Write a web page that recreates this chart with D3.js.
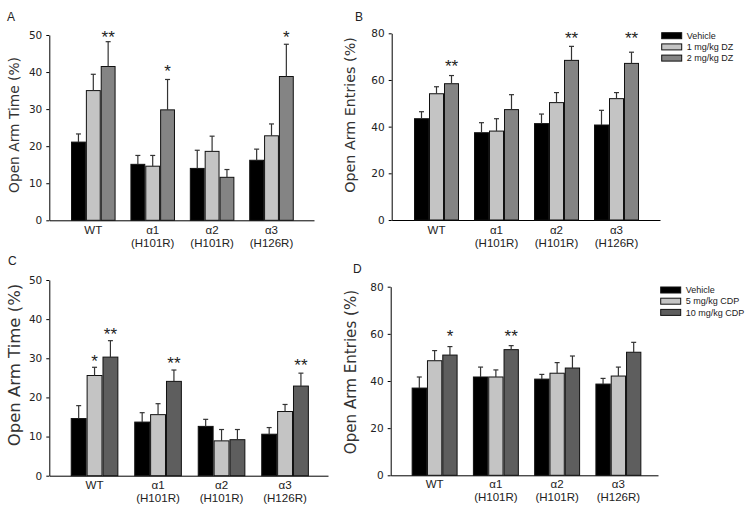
<!DOCTYPE html>
<html><head><meta charset="utf-8">
<script src="https://cdn.jsdelivr.net/npm/d3@7"></script>
<style>body{margin:0;background:#fff}svg{display:block}</style>
</head><body>
<svg id="chart" width="751" height="513"></svg>
<script>
// ---------- data ----------
const groupLine1 = ["WT", "α1", "α2", "α3"];
const groupLine2 = ["", "(H101R)", "(H101R)", "(H126R)"];
const yTicksTime = [0, 10, 20, 30, 40, 50];
const yTicksEntries = [0, 20, 40, 60, 80];

const dzLegend = ["Vehicle", "1 mg/kg DZ", "2 mg/kg DZ"];
const cdpLegend = ["Vehicle", "5 mg/kg CDP", "10 mg/kg CDP"];

// Panel A: open arm time, DZ
const A_vehicle = [21.1, 15.1, 14.0, 16.2];
const A_vehicleErr = [23.3, 17.5, 18.9, 19.2];
const A_dz1 = [35.0, 14.6, 18.6, 22.8];
const A_dz1Err = [39.4, 17.5, 22.7, 26.0];
const A_dz2 = [41.5, 29.8, 11.6, 38.8];
const A_dz2Err = [48.2, 38.0, 13.7, 47.5];
const A_stars = [[0, 2, "**", 50.5], [1, 2, "*", 41.3], [3, 2, "*", 50.5]];

// Panel B: open arm entries, DZ
const B_vehicle = [43.4, 37.4, 41.3, 40.7];
const B_vehicleErr = [46.4, 41.7, 45.4, 47.0];
const B_dz1 = [54.1, 38.1, 50.3, 52.0];
const B_dz1Err = [57.1, 43.4, 54.6, 54.6];
const B_dz2 = [58.4, 47.3, 68.4, 67.1];
const B_dz2Err = [61.9, 53.7, 74.4, 71.9];
const B_stars = [[0, 2, "**", 67.3], [2, 2, "**", 79.3], [3, 2, "**", 79.3]];

// Panel C: open arm time, CDP
const C_vehicle = [14.6, 13.7, 12.6, 10.6];
const C_vehicleErr = [17.9, 16.1, 14.4, 12.3];
const C_cdp5 = [25.6, 15.6, 8.9, 16.4];
const C_cdp5Err = [27.7, 18.4, 11.8, 18.2];
const C_cdp10 = [30.3, 24.1, 9.2, 22.9];
const C_cdp10Err = [34.5, 27.0, 11.8, 26.2];
const C_stars = [[0, 1, "*", 30.3], [0, 2, "**", 37.1], [1, 2, "**", 29.6], [3, 2, "**", 29.1]];

// Panel D: open arm entries, CDP
const D_vehicle = [37.0, 41.7, 40.8, 38.7];
const D_vehicleErr = [41.7, 45.9, 42.8, 41.1];
const D_cdp5 = [48.6, 41.7, 43.3, 42.1];
const D_cdp5Err = [52.9, 44.7, 47.8, 45.9];
const D_cdp10 = [51.0, 53.3, 45.5, 52.2];
const D_cdp10Err = [54.6, 55.0, 50.6, 56.4];
const D_stars = [[0, 2, "*", 60.4], [1, 2, "**", 60.7]];

// ---------- layout ----------
const colorsDZ = ["#000000", "#c4c4c4", "#848484"];
const colorsCDP = ["#000000", "#c4c4c4", "#5e5e5e"];

const panels = [
  { letter: "A", lx: 7, ly: 20.7, ax: 49.3, yTop: 35, yBot: 220.3, yMax: 50, ticks: yTicksTime, xEnd: 314,
    b0: 63.6, b1: 301.2, title: "Open Arm Time (%)", tx: 14, ty: 125, tfs: 13.8, lfs: 11.5, l1: 9.7, l2: 22.7,
    values: [A_vehicle, A_dz1, A_dz2], errs: [A_vehicleErr, A_dz1Err, A_dz2Err], stars: A_stars, colors: colorsDZ },
  { letter: "B", lx: 355, ly: 20.7, ax: 391.7, yTop: 33.3, yBot: 220, yMax: 80, ticks: yTicksEntries, xEnd: 660,
    b0: 406.5, b1: 646.5, title: "Open Arm Entries (%)", tx: 350, ty: 115, tfs: 14.3, lfs: 11.5, l1: 9.7, l2: 22.7,
    values: [B_vehicle, B_dz1, B_dz2], errs: [B_vehicleErr, B_dz1Err, B_dz2Err], stars: B_stars, colors: colorsDZ,
    legend: dzLegend, legX: 661.7, legY: 35.7, legStep: 11.2 },
  { letter: "C", lx: 8, ly: 265, ax: 49.3, yTop: 280, yBot: 475.7, yMax: 50, ticks: yTicksTime, xEnd: 328,
    b0: 62.8, b1: 316.8, title: "Open Arm Time (%)", tx: 14, ty: 365, tfs: 16.5, lfs: 11.6, l1: 9.2, l2: 22.3,
    values: [C_vehicle, C_cdp5, C_cdp10], errs: [C_vehicleErr, C_cdp5Err, C_cdp10Err], stars: C_stars, colors: colorsCDP },
  { letter: "D", lx: 353, ly: 272.7, ax: 390.7, yTop: 286.7, yBot: 475.3, yMax: 80, ticks: yTicksEntries, xEnd: 658,
    b0: 404, b1: 649, title: "Open Arm Entries (%)", tx: 351, ty: 372, tfs: 15.1, lfs: 11.5, l1: 8.8, l2: 22,
    values: [D_vehicle, D_cdp5, D_cdp10], errs: [D_vehicleErr, D_cdp5Err, D_cdp10Err], stars: D_stars, colors: colorsCDP,
    legend: cdpLegend, legX: 660.7, legY: 290, legStep: 11.2 }
];

const svg = d3.select("#chart");
const SANS = "'Liberation Sans', Arial, sans-serif";
const WIDE = "'DejaVu Sans', Verdana, sans-serif";

panels.forEach(p => {
  const g = svg.append("g");
  const y = d3.scaleLinear().domain([0, p.yMax]).range([p.yBot, p.yTop]);
  const x = d3.scaleBand().domain(d3.range(groupLine1.length)).range([p.b0, p.b1])
    .paddingInner(0.25).paddingOuter(0.125);
  const xs = d3.scaleBand().domain([0, 1, 2]).range([0, x.bandwidth()]);

  // y axis
  const yAxis = d3.axisLeft(y).tickValues(p.ticks).tickSize(3).tickPadding(4).tickSizeOuter(0);
  const ya = g.append("g").attr("transform", `translate(${p.ax},0)`).call(yAxis);
  ya.select(".domain").attr("stroke", "#000");
  ya.selectAll(".tick line").attr("stroke", "#000");
  ya.selectAll(".tick text").attr("font-family", WIDE).attr("font-size", 10.5).attr("fill", "#222");

  // x axis line (no ticks)
  const xr = d3.scaleLinear().domain([0, 1]).range([p.ax, p.xEnd]);
  const xAxis = d3.axisBottom(xr).tickValues([]).tickSizeOuter(0);
  g.append("g").attr("transform", `translate(0,${p.yBot})`).call(xAxis)
    .select(".domain").attr("stroke", "#000");

  // bars
  p.values.forEach((vals, s) => {
    g.append("g").selectAll("rect").data(vals).join("rect")
      .attr("x", (d, i) => x(i) + xs(s) + 0.5)
      .attr("y", d => y(d))
      .attr("width", xs.bandwidth() - 1)
      .attr("height", d => y(0) - y(d))
      .attr("fill", p.colors[s])
      .attr("stroke", "#111").attr("stroke-width", 1);
  });

  // error bars
  p.errs.forEach((errs, s) => {
    const eg = g.append("g").attr("stroke", "#333").attr("stroke-width", 1.2);
    errs.forEach((e, i) => {
      const cx = x(i) + xs(s) + xs.bandwidth() / 2;
      eg.append("line").attr("x1", cx).attr("x2", cx).attr("y1", y(p.values[s][i])).attr("y2", y(e));
      eg.append("line").attr("x1", cx - 2.5).attr("x2", cx + 2.5).attr("y1", y(e)).attr("y2", y(e));
    });
  });

  // stars
  g.append("g").selectAll("text").data(p.stars).join("text")
    .attr("x", d => x(d[0]) + xs(d[1]) + xs.bandwidth() / 2)
    .attr("y", d => y(d[3]) + 9.5)
    .attr("text-anchor", "middle")
    .attr("font-family", SANS).attr("font-size", 17).attr("fill", "#222")
    .text(d => d[2]);

  // x labels
  const xl = g.append("g").attr("font-family", SANS).attr("font-size", p.lfs).attr("fill", "#222")
    .attr("text-anchor", "middle");
  groupLine1.forEach((t, i) => {
    const cx = x(i) + x.bandwidth() / 2;
    xl.append("text").attr("x", cx).attr("y", p.yBot + p.l1).attr("dy", "0.35em").text(t);
    if (groupLine2[i]) xl.append("text").attr("x", cx).attr("y", p.yBot + p.l2).attr("dy", "0.35em").text(groupLine2[i]);
  });

  // y title
  g.append("text").attr("transform", `translate(${p.tx},${p.ty}) rotate(-90)`)
    .attr("text-anchor", "middle").attr("dy", "0.35em")
    .attr("font-family", WIDE).attr("font-size", p.tfs).attr("fill", "#333")
    .text(p.title);

  // panel letter
  g.append("text").attr("x", p.lx).attr("y", p.ly)
    .attr("font-family", SANS).attr("font-size", 12).attr("fill", "#222").text(p.letter);

  // legend
  if (p.legend) {
    const lg = g.append("g");
    p.legend.forEach((t, i) => {
      const cy = p.legY + i * p.legStep;
      lg.append("rect").attr("x", p.legX).attr("y", cy - 3).attr("width", 20).attr("height", 6)
        .attr("fill", p.colors[i]).attr("stroke", "#111").attr("stroke-width", 1);
      lg.append("text").attr("x", p.legX + 25).attr("y", cy).attr("dy", "0.35em")
        .attr("font-family", SANS).attr("font-size", 9).attr("fill", "#222").text(t);
    });
  }
});
</script>
</body></html>
